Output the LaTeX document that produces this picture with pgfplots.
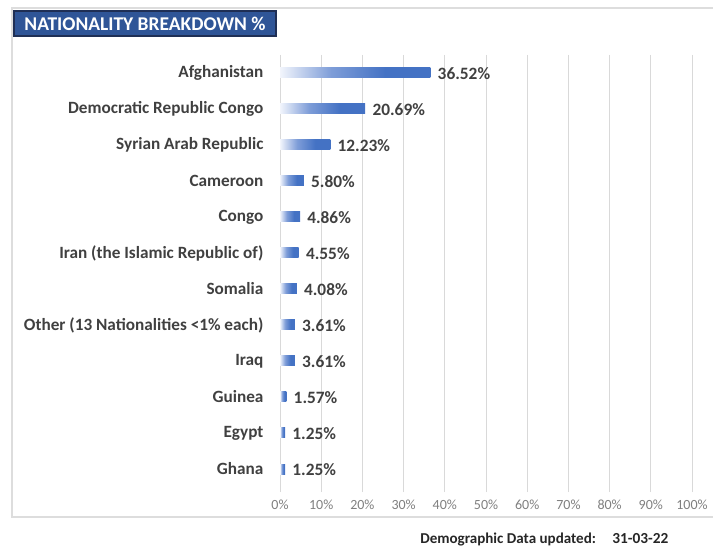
\documentclass[border=0pt]{standalone}
\usepackage{fontspec}
\setmainfont{Carlito}
\usepackage{pgfplots}
\pgfplotsset{compat=1.18}
\definecolor{barblue}{HTML}{4472C4}
\definecolor{barlight}{HTML}{F2F5FC}
\definecolor{barmid}{HTML}{7E9DD8}
\definecolor{lab}{HTML}{404040}
\definecolor{tickc}{HTML}{7F7F7F}
\definecolor{gridc}{HTML}{D9D9D9}
\definecolor{framec}{HTML}{DDDDDD}
\definecolor{titlebg}{HTML}{2F5597}
\definecolor{titlebd}{HTML}{1F2F55}
\pgfdeclarehorizontalshading{barshade}{100bp}{color(0bp)=(barlight); color(25bp)=(barlight); color(42bp)=(barmid); color(60bp)=(barblue); color(75bp)=(barblue); color(100bp)=(barblue)}
\pgfplotsset{nbar/.style={draw=none, shading=barshade, bar shift=0pt}}
\begin{document}
\begin{tikzpicture}[x=0.75pt,y=0.75pt]
\path[use as bounding box] (0,0) rectangle (713,548);
\draw[framec, line width=1.1pt] (730,540) -- (12,540) -- (12,31) -- (730,31);
\filldraw[fill=titlebg, draw=titlebd, line width=0.9pt] (14,537) rectangle (276,512);
\node[white, inner sep=0pt, font=\bfseries\fontsize{14.6}{16}\selectfont] at (145,524.5) {NATIONALITY BREAKDOWN \%};
\begin{axis}[
  at={(210pt,45.75pt)}, anchor=south west, scale only axis,
  width=309pt, height=324pt,
  xmin=0, xmax=100, ymin=-0.5, ymax=11.5, y dir=reverse,
  xbar, bar width=7.5pt,
  /pgf/number format/assume math mode=true,
  axis line style={draw=none},
  xtick={0,10,...,100},
  xticklabel={\pgfmathprintnumber{\tick}\%},
  xtick pos=lower, ytick pos=left,
  tick align=outside, major tick length=3.75pt,
  x tick style={gridc, line width=0.75pt},
  y tick style={draw=none},
  xmajorgrids, major grid style={gridc, line width=0.75pt},
  ytick={0,...,11},
  yticklabels={Afghanistan, Democratic Republic Congo, Syrian Arab Republic, Cameroon, Congo, Iran (the Islamic Republic of), Somalia, Other (13 Nationalities <1\% each), Iraq, Guinea, Egypt, Ghana},
  yticklabel style={anchor=east, inner sep=0pt, xshift=-8.5pt, text=lab, font=\bfseries\fontsize{12.9}{14}\selectfont},
  xticklabel style={inner sep=0pt, yshift=-5.5pt, text=tickc, font=\fontsize{10.5}{12}\selectfont},
  nodes near coords={\pgfmathprintnumber[fixed, fixed zerofill, precision=2, assume math mode=true]{\pgfplotspointmeta}\%},
  point meta=x,
  nodes near coords style={anchor=west, inner sep=0pt, xshift=5.25pt, yshift=-0.5pt, text=lab, font=\bfseries\fontsize{13}{14}\selectfont},
]
\addplot[nbar] coordinates {(36.52,0)};
\addplot[nbar] coordinates {(20.69,1)};
\addplot[nbar] coordinates {(12.23,2)};
\addplot[nbar] coordinates {(5.80,3)};
\addplot[nbar] coordinates {(4.86,4)};
\addplot[nbar] coordinates {(4.55,5)};
\addplot[nbar] coordinates {(4.08,6)};
\addplot[nbar] coordinates {(3.61,7)};
\addplot[nbar] coordinates {(3.61,8)};
\addplot[nbar] coordinates {(1.57,9)};
\addplot[nbar] coordinates {(1.25,10)};
\addplot[nbar] coordinates {(1.25,11)};
\end{axis}
\node[anchor=west, inner sep=0pt, text=black!85, font=\bfseries\fontsize{11.3}{13}\selectfont] at (420,9) {Demographic Data updated:};
\node[anchor=west, inner sep=0pt, text=black!85, font=\bfseries\fontsize{11.5}{13}\selectfont] at (612,9) {31-03-22};
\end{tikzpicture}
\end{document}
